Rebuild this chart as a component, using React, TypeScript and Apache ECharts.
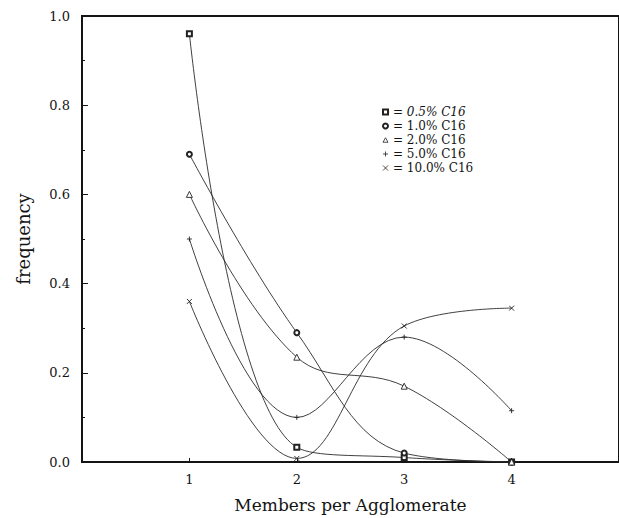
import React, { useEffect, useRef } from "react";
import * as echarts from "echarts";

const members = [1, 2, 3, 4];
const names = ["0.5% C16", "1.0% C16", "2.0% C16", "5.0% C16", "10.0% C16"];
const c05 = [0.96, 0.033, 0.01, 0.0];
const c10 = [0.69, 0.29, 0.02, 0.0];
const c20 = [0.6, 0.235, 0.17, 0.0];
const c50 = [0.5, 0.1, 0.28, 0.115];
const c100 = [0.36, 0.008, 0.305, 0.345];
const yTicks = [0, 0.2, 0.4, 0.6, 0.8, 1.0];

const PLUS = "path://M5,0L5,10M0,5L10,5";
const CROSS = "path://M0,0L10,10M0,10L10,0";
const TRI = "path://M5,0L10,9L0,9Z";

const FONT = "DejaVu Serif";
const INK = "#141414";

export default function App() {
  const ref = useRef<HTMLDivElement>(null);
  useEffect(() => {
    if (!ref.current) return;
    const chart = echarts.init(ref.current, null, { renderer: "svg" });
    const values = [c05, c10, c20, c50, c100];
    const symbols = ["emptyRect", "emptyCircle", TRI, PLUS, CROSS];
    const series = values.map((vals, i) => ({
      name: names[i],
      type: "line",
      smooth: 0.4,
      data: members.map((m, j) => [m, vals[j]]),
      symbol: symbols[i],
      symbolSize: i === 2 ? 6 : 5,
      showSymbol: true,
      lineStyle: { color: "#2a2a2a", width: 0.9 },
      itemStyle: { color: i === 2 ? "#fff" : "#222", borderColor: "#222", borderWidth: 0.9 },
      clip: false,
      z: 3,
    }));
    chart.setOption({
      animation: false,
      backgroundColor: "#fff",
      grid: {
        left: 82,
        top: 16,
        width: 545,
        height: 454,
        show: true,
        borderColor: INK,
        borderWidth: 2,
        backgroundColor: "transparent",
      },
      legend: {
        orient: "vertical",
        left: 382,
        top: 105,
        padding: 0,
        itemGap: 0,
        itemWidth: 5,
        itemHeight: 5,
        selectedMode: false,
        itemStyle: { borderWidth: 0.8 },
        data: names.map((n, i) => ({ name: n, icon: symbols[i] })),
        formatter: (n: string) => (n === names[0] ? `{it|= ${n}}` : `= ${n}`),
        textStyle: {
          fontFamily: FONT,
          fontSize: 12,
          lineHeight: 14,
          color: INK,
          rich: {
            it: { fontFamily: FONT, fontSize: 12, lineHeight: 14, fontStyle: "italic", color: INK },
          },
        },
      },
      xAxis: {
        type: "value",
        min: 0,
        max: 5,
        interval: 1,
        name: "Members per Agglomerate",
        nameLocation: "middle",
        nameGap: 34,
        nameTextStyle: { fontFamily: FONT, fontSize: 17, color: INK },
        axisLine: { show: true, onZero: false, lineStyle: { color: INK, width: 2 } },
        axisTick: { show: true, inside: true, length: 4, customValues: members, lineStyle: { color: INK } },
        axisLabel: {
          customValues: members,
          fontFamily: FONT,
          fontSize: 13,
          color: INK,
          margin: 11,
        },
        splitLine: { show: false },
      },
      yAxis: {
        type: "value",
        min: 0,
        max: 1,
        interval: 0.2,
        name: "frequency",
        nameLocation: "middle",
        nameGap: 50,
        nameRotate: 90,
        nameTextStyle: { fontFamily: FONT, fontSize: 18, color: INK },
        axisLine: { show: true, lineStyle: { color: INK, width: 2 } },
        axisTick: { show: true, inside: true, length: 6, customValues: yTicks, lineStyle: { color: INK } },
        minorTick: { show: true, splitNumber: 2, length: 3, lineStyle: { color: INK } },
        axisLabel: {
          formatter: (v: number) => v.toFixed(1),
          fontFamily: FONT,
          fontSize: 13,
          color: INK,
          margin: 12,
        },
        splitLine: { show: false },
      },
      series,
    });
    return () => chart.dispose();
  }, []);
  return (
    <div
      ref={ref}
      style={{ position: "fixed", left: 0, top: 0, width: 619, height: 518, background: "#fff" }}
    />
  );
}
